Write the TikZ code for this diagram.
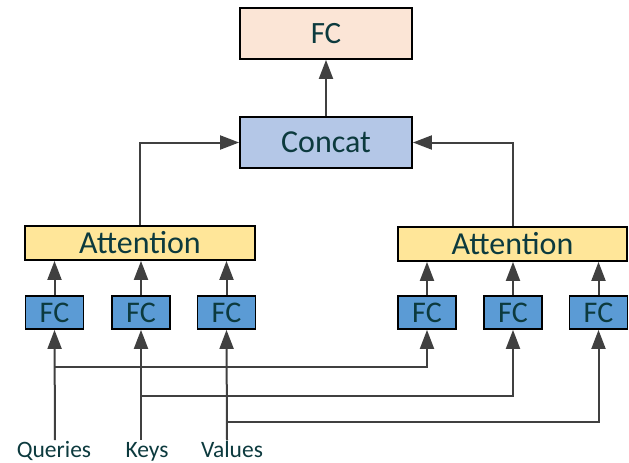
\documentclass[tikz,border=0pt]{standalone}
\usepackage{fontspec}
\setmainfont{Carlito}
\usetikzlibrary{arrows.meta}
\definecolor{txt}{RGB}{12,58,62}
\definecolor{ln}{RGB}{64,64,64}
\definecolor{peach}{RGB}{251,229,214}
\definecolor{cblue}{RGB}{180,199,231}
\definecolor{ayel}{RGB}{255,230,153}
\definecolor{fcblue}{RGB}{91,155,213}
\tikzset{
  box/.style={draw=black, line width=1.8pt, inner sep=0pt, text=txt},
  conn/.style={draw=ln, line width=2pt, -{Triangle[length=19pt,width=14pt]}},
  lbl/.style={text=txt, font=\fontsize{23.5}{25}\selectfont, inner sep=0pt, anchor=base}
}
\begin{document}
\begin{tikzpicture}[x=1pt,y=-1pt]
\useasboundingbox (0,0) rectangle (629,463);
\node[box, fill=peach, minimum width=172pt, minimum height=51pt, font=\fontsize{31}{33}\selectfont] (fc) at (326,33.5) {FC};
\node[box, fill=cblue, minimum width=172pt, minimum height=51pt, font=\fontsize{32}{34}\selectfont] (cat) at (326,142.5) {Concat};
\node[box, fill=ayel, minimum width=230pt, minimum height=34pt, font=\fontsize{32}{34}\selectfont] (att1) at (140,243) {Attention};
\node[box, fill=ayel, minimum width=229pt, minimum height=34pt, font=\fontsize{32}{34}\selectfont] (att2) at (512.5,244) {Attention};
\foreach \n/\x in {q1/54.5, k1/141, v1/226.5, q2/427, k2/513, v2/598.5}{
  \node[box, fill=fcblue, minimum width=58pt, minimum height=33pt, font=\fontsize{30}{32}\selectfont] (\n) at (\x,312.5) {FC};
}
\node[lbl] (Q) at (54,457) {Queries};
\node[lbl] (K) at (147,457) {Keys};
\node[lbl] (V) at (232,457) {Values};
\coordinate (qb) at (55,440);
\coordinate (kb) at (141,440);
\coordinate (vb) at (227,440);
% top connections
\draw[conn] (cat.north) -- (fc.south);
\draw[conn] (att1.north) |- (cat.west);
\draw[conn] (att2.north) |- (cat.east);
% FC to attention
\foreach \n in {q1,k1,v1}{ \draw[conn] (\n.north) -- (\n.north |- att1.south); }
\foreach \n in {q2,k2,v2}{ \draw[conn] (\n.north) -- (\n.north |- att2.south); }
% inputs
\draw[conn] (qb) -- (q1.south);
\draw[conn] (kb) -- (k1.south);
\draw[conn] (vb) -- (v1.south);
\coordinate (qh) at (55,367);
\coordinate (kh) at (141,396);
\coordinate (vh) at (227,422);
\draw[conn] (qh) -| (q2.south);
\draw[conn] (kh) -| (k2.south);
\draw[conn] (vh) -| (v2.south);
\end{tikzpicture}
\end{document}
